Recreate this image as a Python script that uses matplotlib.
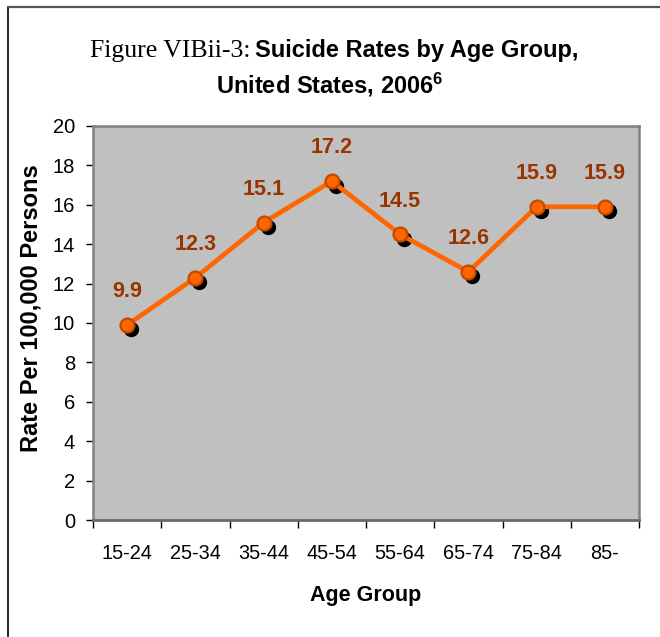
import matplotlib
matplotlib.use("Agg")
import matplotlib.pyplot as plt
from matplotlib.lines import Line2D
from matplotlib.transforms import offset_copy

age_groups = ["15-24", "25-34", "35-44", "45-54", "55-64", "65-74", "75-84", "85-"]
rates = [9.9, 12.3, 15.1, 17.2, 14.5, 12.6, 15.9, 15.9]
y_ticks = [0, 2, 4, 6, 8, 10, 12, 14, 16, 18, 20]

W, H = 660, 637
SANS = "Liberation Sans"

plt.rcParams["font.family"] = SANS
plt.rcParams["mathtext.fontset"] = "custom"
plt.rcParams["mathtext.rm"] = "Liberation Sans:bold"
plt.rcParams["mathtext.it"] = "Liberation Sans:bold"

fig = plt.figure(figsize=(W / 100, H / 100), dpi=100)

# outer frame, only left and top edges fall inside the image
fig.add_artist(Line2D([8 / W, 8 / W], [0, 1 - 7 / H], transform=fig.transFigure,
                      color="black", lw=1.2))
fig.add_artist(Line2D([8 / W, 1], [1 - 7 / H, 1 - 7 / H], transform=fig.transFigure,
                      color="#555555", lw=1.6))

ax = fig.add_axes([93 / W, 1 - 520 / H, (639 - 93) / W, (520 - 126) / H])
ax.set_facecolor("#c0c0c0")
for side in ["top", "right", "left"]:
    ax.spines[side].set_color("#808080")
    ax.spines[side].set_linewidth(1.8)
ax.spines["bottom"].set_color("#6a6a6a")
ax.spines["bottom"].set_linewidth(2)

x = [i + 0.5 for i in range(len(age_groups))]

# black drop shadow behind each marker
shadow = offset_copy(ax.transData, fig=fig, x=4, y=-4.5, units="dots")
ax.plot(x, rates, "o", ms=10, color="black", transform=shadow, zorder=2,
        clip_on=False)
ax.plot(x, rates, "-", color="#ff6600", lw=3.4, zorder=3)
ax.plot(x, rates, "o", ms=10, mfc="#ff6600", mec="#bf4a00", mew=1.6, zorder=4)

for xi, r in zip(x, rates):
    ax.annotate(f"{r:.1f}", (xi, r), xytext=(0, 24), textcoords="offset points",
                ha="center", va="center", color="#993300", fontsize=15.5,
                fontweight="bold")

ax.set_xlim(0, len(age_groups))
ax.set_ylim(0, 20)
ax.set_yticks(y_ticks)
ax.set_yticklabels([str(t) for t in y_ticks], fontsize=14.5)
ax.tick_params(axis="y", length=5, width=1, pad=8, direction="out")

# category boundaries get the tick marks, centres get the labels
ax.set_xticks(range(len(age_groups) + 1))
ax.set_xticklabels([])
ax.tick_params(axis="x", which="major", length=6, width=1, direction="out")
ax.set_xticks(x, minor=True)
ax.set_xticklabels(age_groups, minor=True, fontsize=14.3)
ax.tick_params(axis="x", which="minor", length=0, pad=17)

ax.set_xlabel("Age Group", fontsize=15.5, fontweight="bold", labelpad=16)
ax.set_ylabel("Rate Per 100,000 Persons", fontsize=17, fontweight="bold")
ax.yaxis.set_label_coords(-0.093, 0.538)

# two-font title line, centred as one piece
t1 = fig.text(0, 1 - 57 / H, "Figure VIBii-3:", family="Liberation Serif",
              fontsize=18.5, va="baseline", ha="left")
t2 = fig.text(0, 1 - 57 / H, "Suicide Rates by Age Group,", fontsize=17,
              fontweight="bold", va="baseline", ha="left")
fig.canvas.draw()
renderer = fig.canvas.get_renderer()
w1 = t1.get_window_extent(renderer).width
w2 = t2.get_window_extent(renderer).width
gap = 5
start = 334 - (w1 + gap + w2) / 2
t1.set_x(start / W)
t2.set_x((start + w1 + gap) / W)

fig.text(330 / W, 1 - 93 / H, r"United States, 2006$^{6}$", fontsize=17,
         fontweight="bold", va="baseline", ha="center")

fig.savefig("out.png", dpi=100)
